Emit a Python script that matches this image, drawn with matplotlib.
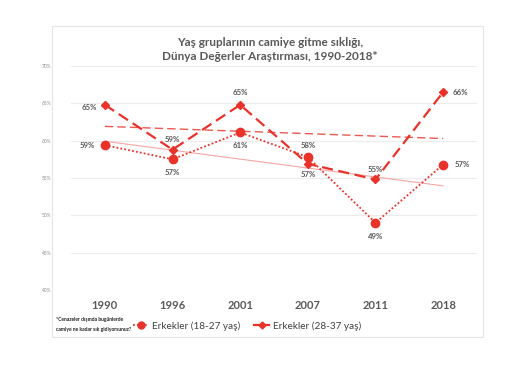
import matplotlib.pyplot as plt
import numpy as np
from matplotlib.patches import Rectangle
from matplotlib.lines import Line2D

plt.rcParams['font.family'] = ['Lato', 'DejaVu Sans']

years = ["1990", "1996", "2001", "2007", "2011", "2018"]
young = [59.4, 57.5, 61.1, 57.8, 49.0, 56.8]      # Erkekler (18-27 yaş)
older = [64.8, 58.8, 64.8, 56.9, 54.8, 66.5]      # Erkekler (28-37 yaş)
young_labels = ["59%", "57%", "61%", "58%", "49%", "57%"]
older_labels = ["65%", "59%", "65%", "57%", "55%", "66%"]
yticks = [40, 45, 50, 55, 60, 65, 70]

red = "#e8322a"
grey = "#595959"

fig = plt.figure(figsize=(5.25, 3.75), dpi=100)
fig.patches.append(Rectangle((52 / 525, 1 - 337 / 375), 431 / 525, 311 / 375,
                             transform=fig.transFigure, fill=False,
                             edgecolor="#e4e4e4", linewidth=0.8))
ax = fig.add_axes([71 / 525, 1 - 290 / 375, 406 / 525, 224 / 375])

x = np.arange(len(years))

# trend lines
p1 = np.polyfit(x, young, 1)
p2 = np.polyfit(x, older, 1)
ax.plot(x, np.polyval(p1, x), color="#f4a6a2", linewidth=0.8, zorder=2)
ax.plot(x, np.polyval(p2, x), color="#ea5a52", linewidth=1.0,
        dashes=(6, 3), zorder=2)

ax.plot(x, young, color=red, linewidth=1.3, linestyle=(0, (1, 1.2)),
        marker="o", markersize=6, zorder=3)
ax.plot(x, older, color=red, linewidth=1.6, dashes=(5, 2.5),
        marker="D", markersize=4.5, zorder=3)

fs = 5.6
# label positions: (dx, dy, ha, va) in points
young_pos = [(-7, 0, "right", "center"), (0, -7, "center", "top"),
             (0, -7, "center", "top"), (0, 6, "center", "bottom"),
             (0, -7, "center", "top"), (8, 0, "left", "center")]
older_pos = [(-6, -2, "right", "center"), (0, 5, "center", "bottom"),
             (0, 6, "center", "bottom"), (0, -5, "center", "top"),
             (0, 5, "center", "bottom"), (7, 0, "left", "center")]
for i in range(len(years)):
    dx, dy, ha, va = young_pos[i]
    ax.annotate(young_labels[i], (x[i], young[i]), xytext=(dx, dy),
                textcoords="offset points", ha=ha, va=va, fontsize=fs,
                fontweight="bold", color=grey)
    dx, dy, ha, va = older_pos[i]
    ax.annotate(older_labels[i], (x[i], older[i]), xytext=(dx, dy),
                textcoords="offset points", ha=ha, va=va, fontsize=fs,
                fontweight="bold", color=grey)

ax.set_xlim(-0.5, len(years) - 0.5)
ax.set_ylim(40, 70)
ax.set_yticks(yticks)
ax.set_yticklabels([f"{t}%" for t in yticks], fontsize=3.5, color="#8c8c8c")
ax.set_xticks(x)
ax.set_xticklabels(years, fontsize=8, fontweight="bold", color=grey)
ax.tick_params(length=0, axis="both")
ax.tick_params(axis="y", pad=14)
ax.tick_params(axis="x", pad=7)
ax.grid(axis="y", color="#ececec", linewidth=0.8)
ax.set_axisbelow(True)
for s in ax.spines.values():
    s.set_visible(False)

fig.text(270 / 525, 1 - 43 / 375, "Yaş gruplarının camiye gitme sıklığı,",
         ha="center", va="center", fontsize=8.5, fontweight="bold", color=grey)
fig.text(270 / 525, 1 - 57 / 375, "Dünya Değerler Araştırması, 1990-2018*",
         ha="center", va="center", fontsize=8.5, fontweight="bold", color=grey)

fig.text(56 / 525, 1 - 320 / 375, "*Cenazeler dışında bugünlerde",
         ha="left", va="center", fontsize=3.6, fontweight="bold", color="#222222")
fig.text(56 / 525, 1 - 329 / 375, "camiye ne kadar sık gidiyorsunuz?",
         ha="left", va="center", fontsize=3.6, fontweight="bold", color="#222222")

h1 = Line2D([], [], color=red, linewidth=1.3, linestyle=(0, (1, 1.2)),
            marker="o", markersize=5)
h2 = Line2D([], [], color=red, linewidth=1.6, linestyle="-",
            marker="D", markersize=3.5)
fig.legend([h1, h2], ["Erkekler (18-27 yaş)", "Erkekler (28-37 yaş)"],
           loc="center left", bbox_to_anchor=(133 / 525, 1 - 326 / 375),
           ncol=2, frameon=False, fontsize=7.2, handlelength=1.5,
           handletextpad=0.4, columnspacing=1.4, labelcolor="#404040",
           borderpad=0, borderaxespad=0)

fig.savefig("out.png", dpi=100)
